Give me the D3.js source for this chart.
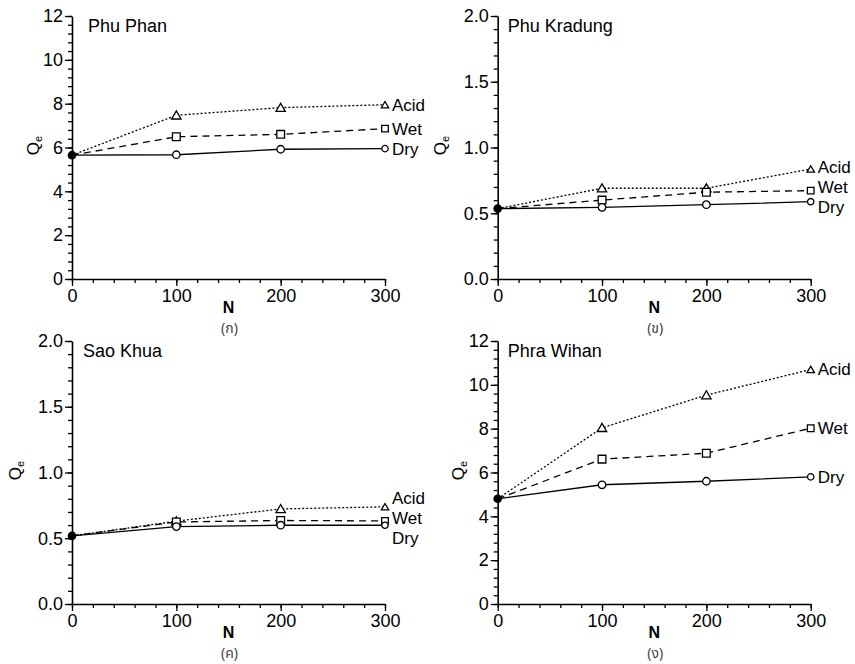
<!DOCTYPE html>
<html>
<head>
<meta charset="utf-8">
<script src="https://cdn.jsdelivr.net/npm/d3@7"></script>
<style>
  html, body { margin: 0; padding: 0; background: #fff; }
  svg { display: block; }
  text { font-family: "Liberation Sans", Arial, "Noto Sans", sans-serif; fill: #000; }
  .thai { font-family: "Noto Sans Thai", "Loma", "Garuda", "Tlwg Typo", "Norasi", "DejaVu Sans", "Noto Sans", sans-serif; }
</style>
</head>
<body>
<script>
// ---------------- DATA ----------------
const nValues = [0, 100, 200, 300];
const sites = ["Phu Phan", "Phu Kradung", "Sao Khua", "Phra Wihan"];
const captions = ["(ก)", "(ข)", "(ค)", "(ง)"];
const seriesNames = ["Acid", "Wet", "Dry"];

const yTicksLarge = [0, 2, 4, 6, 8, 10, 12];
const yTicksSmall = [0, 0.5, 1.0, 1.5, 2.0];
const xTicks = [0, 100, 200, 300];

const phuPhanAcid = [5.65, 7.47, 7.82, 7.95];
const phuPhanWet  = [5.65, 6.49, 6.60, 6.86];
const phuPhanDry  = [5.65, 5.67, 5.92, 5.95];

const phuKradungAcid = [0.535, 0.69, 0.69, 0.836];
const phuKradungWet  = [0.535, 0.60, 0.66, 0.672];
const phuKradungDry  = [0.535, 0.545, 0.565, 0.588];

const saoKhuaAcid = [0.518, 0.63, 0.723, 0.739];
const saoKhuaWet  = [0.518, 0.624, 0.635, 0.632];
const saoKhuaDry  = [0.518, 0.589, 0.599, 0.599];

const phraWihanAcid = [4.80, 8.04, 9.53, 10.70];
const phraWihanWet  = [4.80, 6.61, 6.88, 8.02];
const phraWihanDry  = [4.80, 5.44, 5.60, 5.80];

// table built from the arrays
const panels = [
  { site: sites[0], caption: captions[0], yTicks: yTicksLarge, minor: 0.4, fmt: d3.format("d"),
    series: [phuPhanAcid, phuPhanWet, phuPhanDry] },
  { site: sites[1], caption: captions[1], yTicks: yTicksSmall, minor: 0.1, fmt: d3.format(".1f"),
    series: [phuKradungAcid, phuKradungWet, phuKradungDry] },
  { site: sites[2], caption: captions[2], yTicks: yTicksSmall, minor: 0.1, fmt: d3.format(".1f"),
    series: [saoKhuaAcid, saoKhuaWet, saoKhuaDry] },
  { site: sites[3], caption: captions[3], yTicks: yTicksLarge, minor: 0.4, fmt: d3.format("d"),
    series: [phraWihanAcid, phraWihanWet, phraWihanDry] }
];

// ---------------- LAYOUT ----------------
const W = 855, H = 664;
const plotW = 313, plotH = 263;
const lefts = [72, 497.7, 72, 497.7];
const tops = [16, 16, 341, 341];
const titleDx = [16, 10, 11, 10];
const qDx = [-39, -58, -57, -40];
const dashes = ["2,2", "7,5", null];
const symbols = [d3.symbolTriangle, d3.symbolSquare, d3.symbolCircle];
const symSize = [[38, 24], [60, 44], [44, 32]];

const svg = d3.select("body").append("svg").attr("width", W).attr("height", H);
svg.append("rect").attr("width", W).attr("height", H).attr("fill", "#fff");

function placeLabels(ys, gap) {
  const groups = [];
  ys.forEach((y) => {
    groups.push({ members: [y], top: y });
    while (groups.length > 1) {
      const a = groups[groups.length - 2], b = groups[groups.length - 1];
      if (a.top + a.members.length * gap > b.top) {
        const m = a.members.concat(b.members);
        const mean = d3.mean(m);
        groups.splice(groups.length - 2, 2, { members: m, top: mean - (m.length - 1) * gap / 2 });
      } else break;
    }
  });
  const out = [];
  groups.forEach(g => g.members.forEach((_, k) => out.push(g.top + k * gap)));
  return out;
}

panels.forEach((p, i) => {
  const g = svg.append("g").attr("transform", `translate(${lefts[i]},${tops[i]})`);
  const yMax = p.yTicks[p.yTicks.length - 1];
  const x = d3.scaleLinear().domain([0, 300]).range([0, plotW]);
  const y = d3.scaleLinear().domain([0, yMax]).range([plotH, 0]);

  const minorY = d3.range(0, Math.round(yMax / p.minor) + 1).map(k => k * p.minor);
  const minorX = d3.range(0, 16).map(k => k * 20);

  // minor ticks
  const gyMinor = g.append("g").call(d3.axisLeft(y).tickValues(minorY).tickSize(4).tickSizeOuter(0).tickFormat(""));
  gyMinor.select(".domain").remove();
  const gxMinor = g.append("g").attr("transform", `translate(0,${plotH})`)
    .call(d3.axisBottom(x).tickValues(minorX).tickSize(4).tickSizeOuter(0).tickFormat(""));
  gxMinor.select(".domain").remove();

  // major axes
  const gy = g.append("g").call(d3.axisLeft(y).tickValues(p.yTicks).tickSize(7).tickSizeOuter(0)
    .tickPadding(2).tickFormat(p.fmt));
  const gx = g.append("g").attr("transform", `translate(0,${plotH})`)
    .call(d3.axisBottom(x).tickValues(xTicks).tickSize(7).tickSizeOuter(0).tickPadding(3));
  [gy, gx, gyMinor, gxMinor].forEach(a => {
    a.selectAll("line").attr("stroke", "#000").attr("stroke-width", 1.3);
    a.selectAll("text").style("font-size", "18px").attr("fill", "#000");
  });
  [gy, gx].forEach(a => a.select(".domain").attr("stroke", "#000").attr("stroke-width", 1.6));

  // title
  g.append("text").attr("x", titleDx[i]).attr("y", 16).style("font-size", "18px").text(p.site);

  // y label Q_e
  const ql = g.append("text")
    .attr("transform", `translate(${qDx[i]},${plotH / 2 - 2}) rotate(-90)`)
    .attr("text-anchor", "middle").attr("dy", "0.35em").style("font-size", "17px");
  ql.append("tspan").text("Q");
  ql.append("tspan").attr("dy", "0.3em").style("font-size", "11px").text("e");

  // x label N
  g.append("text").attr("x", x(150)).attr("y", plotH + 34).attr("text-anchor", "middle")
    .style("font-size", "16px").style("font-weight", "bold").text("N");

  // caption
  g.append("text").attr("class", "thai").attr("x", x(150) + 1).attr("y", plotH + 54)
    .attr("text-anchor", "middle").style("font-size", "14px")
    .style("fill", "#444").text(p.caption);

  // lines
  const line = d3.line().x((d, j) => x(nValues[j])).y(d => y(d));
  p.series.forEach((s, k) => {
    g.append("path").datum(s).attr("d", line).attr("fill", "none").attr("stroke", "#000")
      .attr("stroke-width", 1.3).attr("stroke-dasharray", dashes[k]);
  });
  // markers
  p.series.forEach((s, k) => {
    s.forEach((v, j) => {
      if (j === 0) return;
      const size = j === s.length - 1 ? symSize[k][1] : symSize[k][0];
      g.append("path").attr("d", d3.symbol().type(symbols[k]).size(size)())
        .attr("transform", `translate(${x(nValues[j])},${y(v) + (k === 0 ? 1 : 0)})`)
        .attr("fill", "#fff").attr("stroke", "#000").attr("stroke-width", 1.3);
    });
  });
  // start point
  g.append("circle").attr("cx", x(nValues[0])).attr("cy", y(p.series[2][0])).attr("r", 4.3).attr("fill", "#000");

  // series labels at end
  const lastY = p.series.map(s => y(s[s.length - 1]));
  const order = d3.range(lastY.length).sort((a, b) => lastY[a] - lastY[b]);
  const placed = placeLabels(order.map(o => lastY[o]), 20);
  order.forEach((o, idx) => {
    g.append("text").attr("x", x(300) + 7).attr("y", placed[idx]).attr("dy", "0.35em")
      .style("font-size", "17px").text(seriesNames[o]);
  });
});
</script>
</body>
</html>
